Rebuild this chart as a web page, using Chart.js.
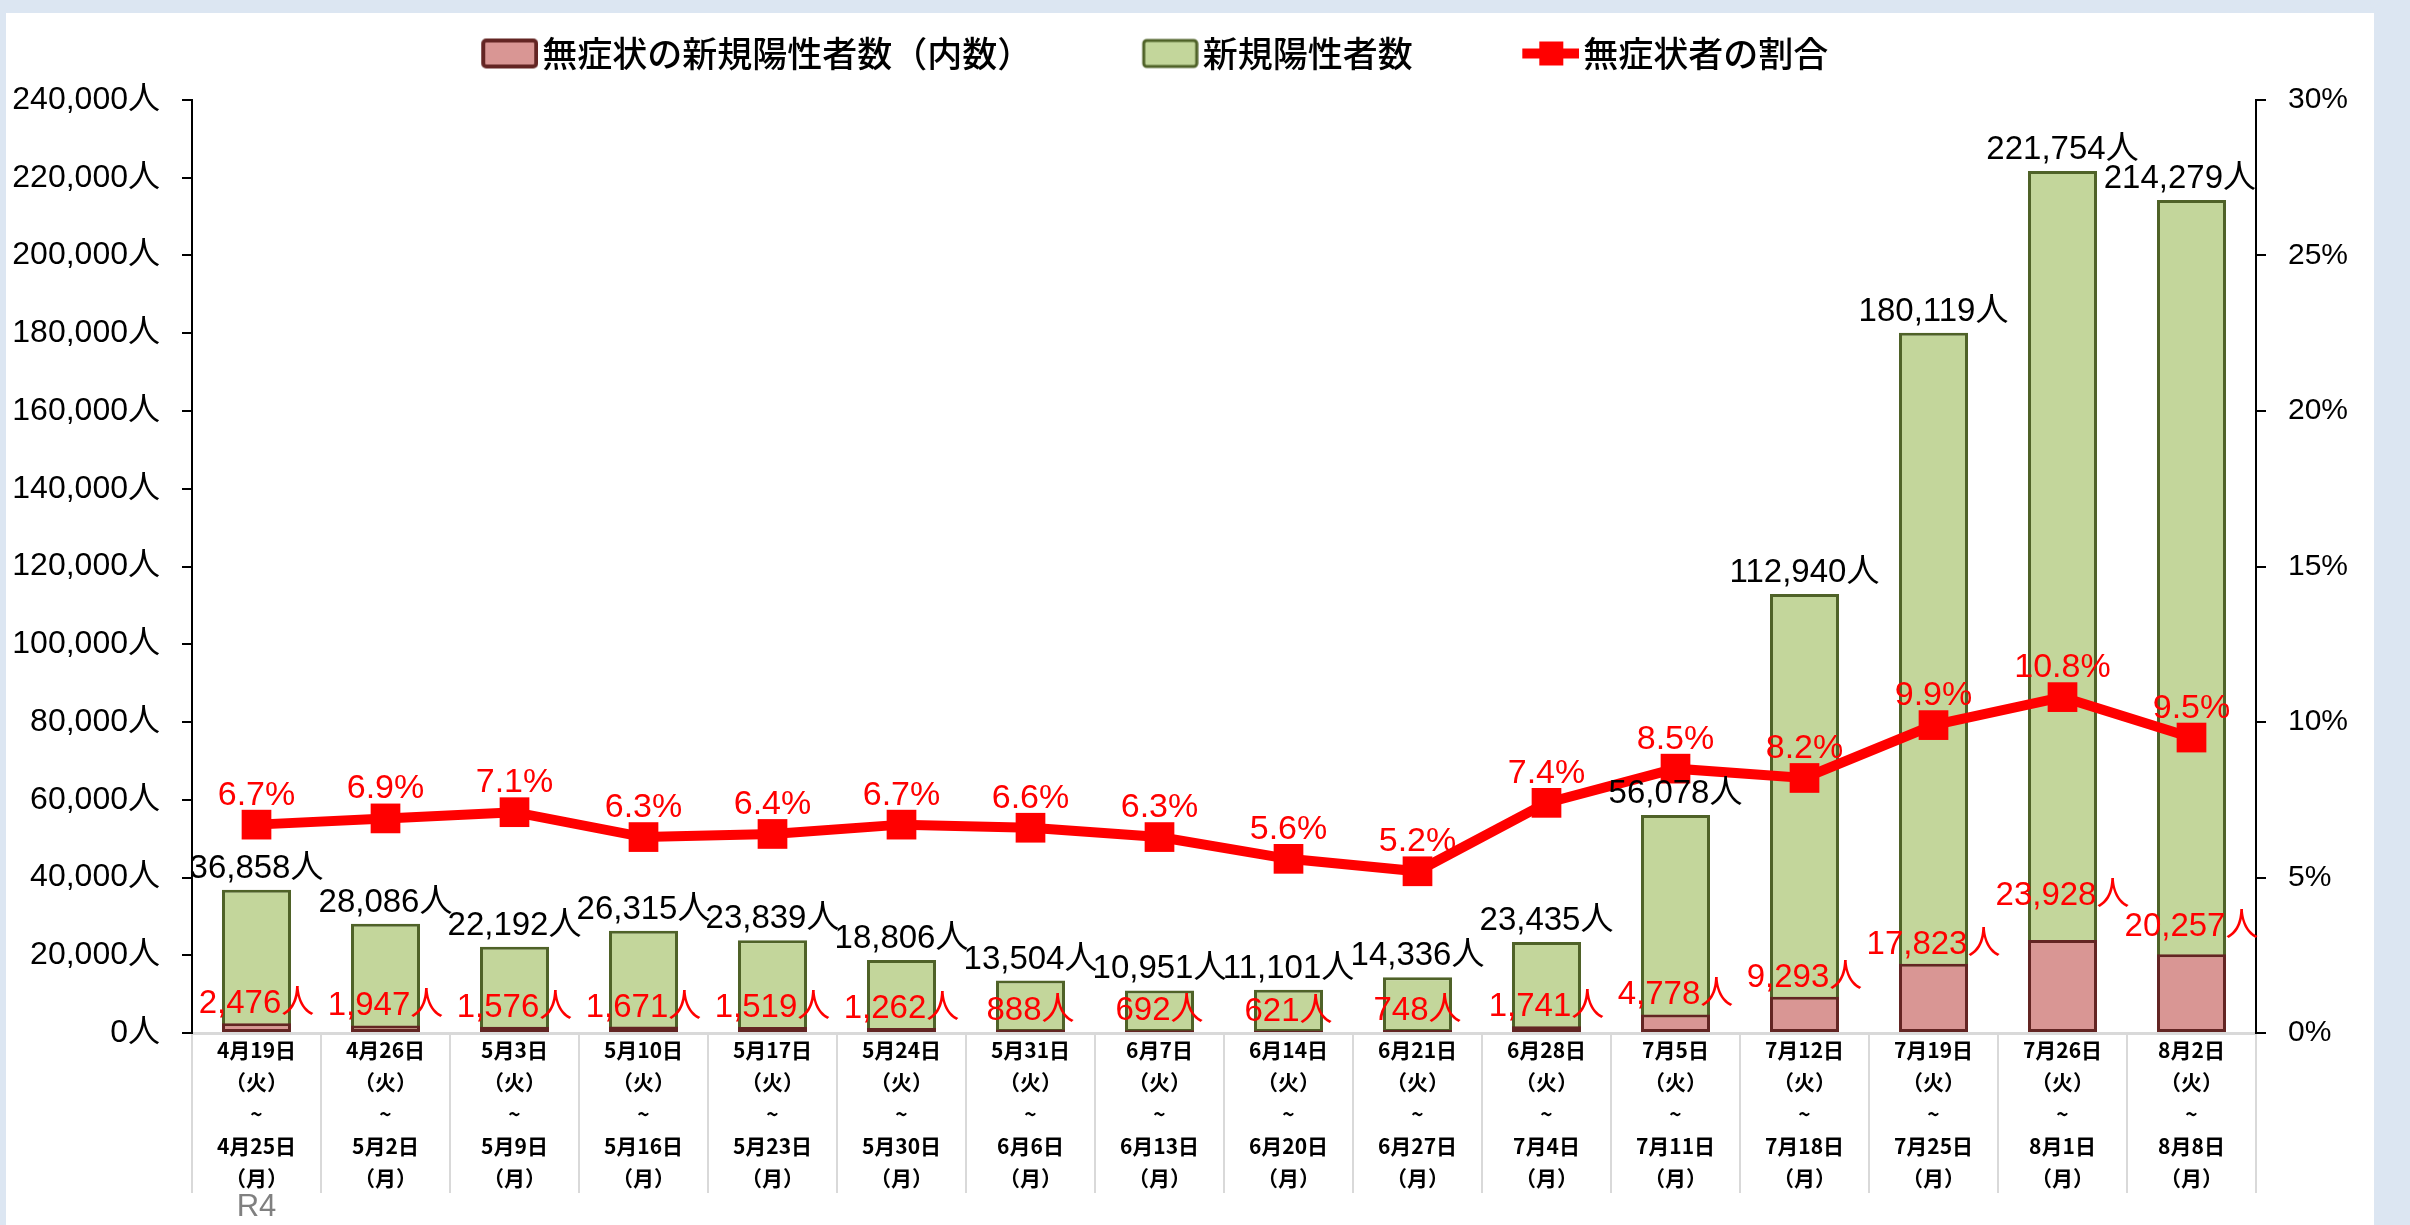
<!DOCTYPE html>
<html lang="ja">
<head>
<meta charset="utf-8">
<script src="https://cdn.jsdelivr.net/npm/chart.js@4.4.1/dist/chart.umd.min.js"></script>
<style>
  html, body { margin: 0; padding: 0; }
  body { width: 2410px; height: 1225px; background: #dce6f2; position: relative; overflow: hidden; }
  #panel { position: absolute; left: 6px; top: 13px; width: 2368px; height: 1212px; background: #ffffff; }
  #c { position: absolute; left: 0; top: 0; }
</style>
</head>
<body>
<div id="panel"></div>
<canvas id="c" width="2410" height="1225"></canvas>
<script>
// ---------------- data ----------------
const startDates = ['4月19日','4月26日','5月3日','5月10日','5月17日','5月24日','5月31日','6月7日','6月14日','6月21日','6月28日','7月5日','7月12日','7月19日','7月26日','8月2日'];
const endDates   = ['4月25日','5月2日','5月9日','5月16日','5月23日','5月30日','6月6日','6月13日','6月20日','6月27日','7月4日','7月11日','7月18日','7月25日','8月1日','8月8日'];
const startDay = '（火）';
const endDay = '（月）';
const yearLabel = 'R4';

const totals       = [36858, 28086, 22192, 26315, 23839, 18806, 13504, 10951, 11101, 14336, 23435, 56078, 112940, 180119, 221754, 214279];
const asymptomatic = [2476, 1947, 1576, 1671, 1519, 1262, 888, 692, 621, 748, 1741, 4778, 9293, 17823, 23928, 20257];
const ratioPct     = [6.7, 6.9, 7.1, 6.3, 6.4, 6.7, 6.6, 6.3, 5.6, 5.2, 7.4, 8.5, 8.2, 9.9, 10.8, 9.5];

const seriesNames = ['無症状の新規陽性者数（内数）', '新規陽性者数', '無症状者の割合'];

const leftAxis  = { min: 0, max: 240000, step: 20000, unit: '人' };
const rightAxis = { min: 0, max: 30, step: 5, unit: '%' };

// ---------------- styles ----------------
const PINK_FILL = '#d99694', PINK_LINE = '#632523';
const GREEN_FILL = '#c3d69b', GREEN_LINE = '#4f6228';
const RED = '#ff0000';
const NUM_FONT = "'Liberation Sans', Arial, 'Noto Sans CJK JP', sans-serif";
const CJK_FONT = "'Noto Sans CJK JP', 'Noto Sans', sans-serif";
const LEG_FONT_SIZE = 35;
const LEG_PAD = 18;
const LEG_BOXW = 135;
const LEG_SHIFT = -96;
const LEG_EXTRA = 19;
// extra upward nudge (px) of a few red labels, as placed in the original
const RED_LABEL_NUDGE = { 14: 25, 15: 8 };

const categories = startDates.map((s, i) => [s, startDay, '~', endDates[i], endDay]);
const fmt = v => v.toLocaleString('en-US');

function makeIcon(kind) {
  const c = document.createElement('canvas');
  c.width = LEG_BOXW + LEG_FONT_SIZE - 8;
  c.height = 40;
  const g = c.getContext('2d');
  const x0 = c.width - 57;
  if (kind === 'line') {
    g.strokeStyle = RED; g.lineWidth = 10;
    g.beginPath(); g.moveTo(x0, 20); g.lineTo(x0 + 57, 20); g.stroke();
    g.fillStyle = RED; g.fillRect(x0 + 17, 8, 24, 24);
  } else {
    const fill = kind === 'pink' ? PINK_FILL : GREEN_FILL;
    const line = kind === 'pink' ? PINK_LINE : GREEN_LINE;
    g.fillStyle = fill; g.strokeStyle = line; g.lineWidth = kind === 'pink' ? 4 : 3;
    g.beginPath(); g.roundRect(x0 + 2, 7, 53, 26, 3); g.fill(); g.stroke();
  }
  return c;
}
const icons = [makeIcon('pink'), makeIcon('green'), makeIcon('line')];

const labelPlugin = {
  id: 'valueLabels',
  beforeLayout(chart) {
    const lg = chart.legend;
    if (lg && !lg._extraWrapped) {
      const f = lg.fit;
      lg.fit = function () { f.apply(this, arguments); this.height += LEG_EXTRA; };
      lg._extraWrapped = true;
    }
  },
  afterLayout(chart) {
    const lg = chart.legend;
    if (lg) { lg.left += LEG_SHIFT; lg.right += LEG_SHIFT; }
  },
  afterDatasetsDraw(chart) {
    const ctx = chart.ctx, area = chart.chartArea;
    ctx.save();
    ctx.textAlign = 'center';
    ctx.textBaseline = 'alphabetic';
    ctx.font = '33px ' + NUM_FONT;
    chart.getDatasetMeta(1).data.forEach((el, i) => {
      const t = fmt(totals[i]) + '人';
      const w = ctx.measureText(t).width;
      const x = Math.min(el.x, area.right - w / 2);
      ctx.fillStyle = '#000';
      ctx.fillText(t, x, el.y - 12);
    });
    chart.getDatasetMeta(0).data.forEach((el, i) => {
      const t = fmt(asymptomatic[i]) + '人';
      ctx.fillStyle = RED;
      ctx.fillText(t, el.x, el.y - 10 - (RED_LABEL_NUDGE[i] || 0));
    });
    ctx.font = '34px ' + NUM_FONT;
    chart.getDatasetMeta(2).data.forEach((el, i) => {
      const t = ratioPct[i].toFixed(1) + '%';
      ctx.fillStyle = RED;
      ctx.fillText(t, el.x, el.y - 20);
    });
    ctx.restore();
  },
  afterDraw(chart) {
    const ctx = chart.ctx, xs = chart.scales.x;
    ctx.save();
    ctx.font = "31px 'Liberation Sans Narrow', " + NUM_FONT;
    ctx.fillStyle = '#808080';
    ctx.textAlign = 'center';
    ctx.textBaseline = 'middle';
    ctx.fillText(yearLabel, xs.getPixelForValue(0), xs.top + 174);
    ctx.restore();
  }
};

new Chart(document.getElementById('c'), {
  data: {
    labels: categories,
    datasets: [
      {
        type: 'bar', label: seriesNames[0], data: asymptomatic, yAxisID: 'y', order: 1,
        backgroundColor: PINK_FILL, borderColor: PINK_LINE, borderWidth: 3, borderSkipped: false,
        grouped: false, barPercentage: 0.535, categoryPercentage: 1
      },
      {
        type: 'bar', label: seriesNames[1], data: totals, yAxisID: 'y', order: 2,
        backgroundColor: GREEN_FILL, borderColor: GREEN_LINE, borderWidth: 3, borderSkipped: false,
        grouped: false, barPercentage: 0.535, categoryPercentage: 1
      },
      {
        type: 'line', label: seriesNames[2], data: ratioPct, yAxisID: 'y2', order: 0,
        borderColor: RED, backgroundColor: RED, borderWidth: 10, tension: 0,
        pointStyle: 'rect', pointRadius: 21, pointHoverRadius: 21,
        pointBackgroundColor: RED, pointBorderColor: RED, pointBorderWidth: 0
      }
    ]
  },
  options: {
    responsive: false,
    animation: false,
    devicePixelRatio: 1,
    layout: { padding: { top: 18, left: 0, right: 0, bottom: 0 } },
    plugins: {
      tooltip: { enabled: false },
      legend: {
        position: 'top',
        labels: {
          usePointStyle: true,
          pointStyleWidth: LEG_BOXW,
          padding: LEG_PAD,
          color: '#000',
          font: { family: CJK_FONT, size: LEG_FONT_SIZE, weight: 500 },
          generateLabels(chart) {
            const items = Chart.defaults.plugins.legend.labels.generateLabels(chart);
            items.sort((a, b) => a.datasetIndex - b.datasetIndex);
            items.forEach(it => { it.pointStyle = icons[it.datasetIndex]; });
            return items;
          }
        }
      }
    },
    scales: {
      x: {
        type: 'category',
        offset: true,
        grid: { offset: true, drawOnChartArea: false, drawTicks: true, tickLength: 160, color: '#d9d9d9', lineWidth: 2 },
        border: { display: true, color: '#d9d9d9', width: 3 },
        ticks: {
          autoSkip: false, maxRotation: 0, minRotation: 0, color: '#000', padding: -159,
          font: { family: CJK_FONT, size: 21, weight: 'bold', lineHeight: '32px' }
        },
        afterFit(s) { s.height = 192; }
      },
      y: {
        position: 'left',
        min: leftAxis.min, max: leftAxis.max,
        grid: { drawOnChartArea: false, drawTicks: true, tickLength: 10, color: '#000', lineWidth: 2 },
        border: { display: true, color: '#000', width: 2 },
        ticks: {
          stepSize: leftAxis.step, color: '#000', padding: 22,
          font: { family: NUM_FONT, size: 32 },
          callback: v => fmt(v) + leftAxis.unit
        },
        afterFit(s) { s.width = 192; }
      },
      y2: {
        position: 'right',
        min: rightAxis.min, max: rightAxis.max,
        grid: { drawOnChartArea: false, drawTicks: true, tickLength: 10, color: '#000', lineWidth: 2 },
        border: { display: true, color: '#000', width: 2 },
        ticks: {
          stepSize: rightAxis.step, color: '#000', padding: 22,
          font: { family: NUM_FONT, size: 30 },
          callback: v => v + rightAxis.unit
        },
        afterFit(s) { s.width = 154; }
      }
    }
  },
  plugins: [labelPlugin]
});
</script>
</body>
</html>
